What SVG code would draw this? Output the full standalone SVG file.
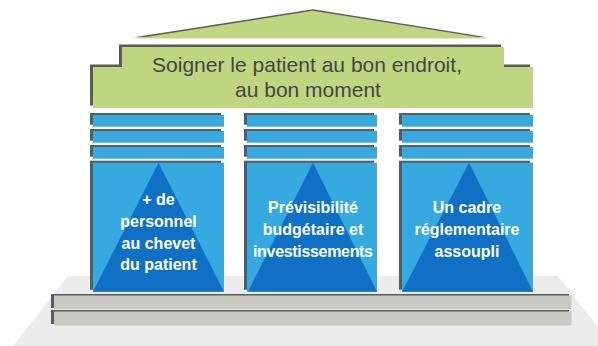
<svg xmlns="http://www.w3.org/2000/svg" width="598" height="346" viewBox="0 0 598 346">
<style>
.sh{fill:#5b5b5b}
.gr{fill:#c0d57f}
.lb{fill:#36a9e1}
.db{fill:#0f70c5}
.st{fill:#c8c9c0}
.ttl{font-family:"Liberation Sans",Arial,sans-serif;font-size:21px;fill:#454545;text-anchor:middle}
.pt{font-family:"Liberation Sans",Arial,sans-serif;font-size:16px;font-weight:bold;fill:#ffffff;text-anchor:middle}
</style>
<rect width="598" height="346" fill="#ffffff"/>
<g id="floor">
<polygon points="68,276 558,276 613,346 13,346" fill="#ececec"/>
</g>
<g id="base">
<rect class="sh" x="51" y="294" width="518" height="14"/>
<rect class="st" x="54" y="295.5" width="517.5" height="13.5"/>
<rect class="sh" x="51" y="310" width="518" height="14"/>
<rect class="st" x="54" y="311.5" width="517.5" height="14"/>
</g>
<g id="roof">
<polygon class="sh" points="313,9.3 134,37.3 487,37.3"/>
<polygon class="gr" points="313,10.7 136,38.5 487,38.5"/>
<polygon class="sh" points="119,44.5 501,44.5 501,64.5 530,64.5 530,105.5 90,105.5 90,64.5 119,64.5"/>
<polygon class="gr" points="122,47 504,47 504,67 533,67 533,108 93,108 93,67 122,67"/>
<text class="ttl" x="307" y="72" textLength="310">Soigner le patient au bon endroit,</text>
<text class="ttl" x="308" y="97">au bon moment</text>
</g>
<g id="pillar1">
<rect class="sh" x="90" y="113" width="131" height="11.7"/>
<rect class="lb" x="93" y="115" width="131" height="11.7"/>
<rect class="sh" x="90" y="129" width="131" height="11.7"/>
<rect class="lb" x="93" y="131" width="131" height="11.7"/>
<rect class="sh" x="90" y="145" width="131" height="11.7"/>
<rect class="lb" x="93" y="147" width="131" height="11.7"/>
<rect class="sh" x="90" y="160.7" width="131" height="129"/>
<rect class="lb" x="93" y="162.7" width="131" height="129"/>
<polygon class="db" points="158.5,162.7 224,291.7 93,291.7"/>
<text class="pt" x="158.5" y="205">+ de</text>
<text class="pt" x="158.5" y="226.5">personnel</text>
<text class="pt" x="158.5" y="248.5">au chevet</text>
<text class="pt" x="158.5" y="270">du patient</text>
</g>
<g id="pillar2">
<rect class="sh" x="244" y="113" width="130" height="11.7"/>
<rect class="lb" x="247" y="115" width="130" height="11.7"/>
<rect class="sh" x="244" y="129" width="130" height="11.7"/>
<rect class="lb" x="247" y="131" width="130" height="11.7"/>
<rect class="sh" x="244" y="145" width="130" height="11.7"/>
<rect class="lb" x="247" y="147" width="130" height="11.7"/>
<rect class="sh" x="244" y="160.7" width="130" height="129"/>
<rect class="lb" x="247" y="162.7" width="130" height="129"/>
<polygon class="db" points="313,162.7 377,291.7 248,291.7"/>
<text class="pt" x="313" y="213">Prévisibilité</text>
<text class="pt" x="313" y="235">budgétaire et</text>
<text class="pt" x="313" y="257" textLength="120">investissements</text>
</g>
<g id="pillar3">
<rect class="sh" x="399" y="113" width="131" height="11.7"/>
<rect class="lb" x="402" y="115" width="131" height="11.7"/>
<rect class="sh" x="399" y="129" width="131" height="11.7"/>
<rect class="lb" x="402" y="131" width="131" height="11.7"/>
<rect class="sh" x="399" y="145" width="131" height="11.7"/>
<rect class="lb" x="402" y="147" width="131" height="11.7"/>
<rect class="sh" x="399" y="160.7" width="131" height="129"/>
<rect class="lb" x="402" y="162.7" width="131" height="129"/>
<polygon class="db" points="469,162.7 533,291.7 402,291.7"/>
<text class="pt" x="467" y="213">Un cadre</text>
<text class="pt" x="467" y="235">réglementaire</text>
<text class="pt" x="467" y="257">assoupli</text>
</g>
</svg>
